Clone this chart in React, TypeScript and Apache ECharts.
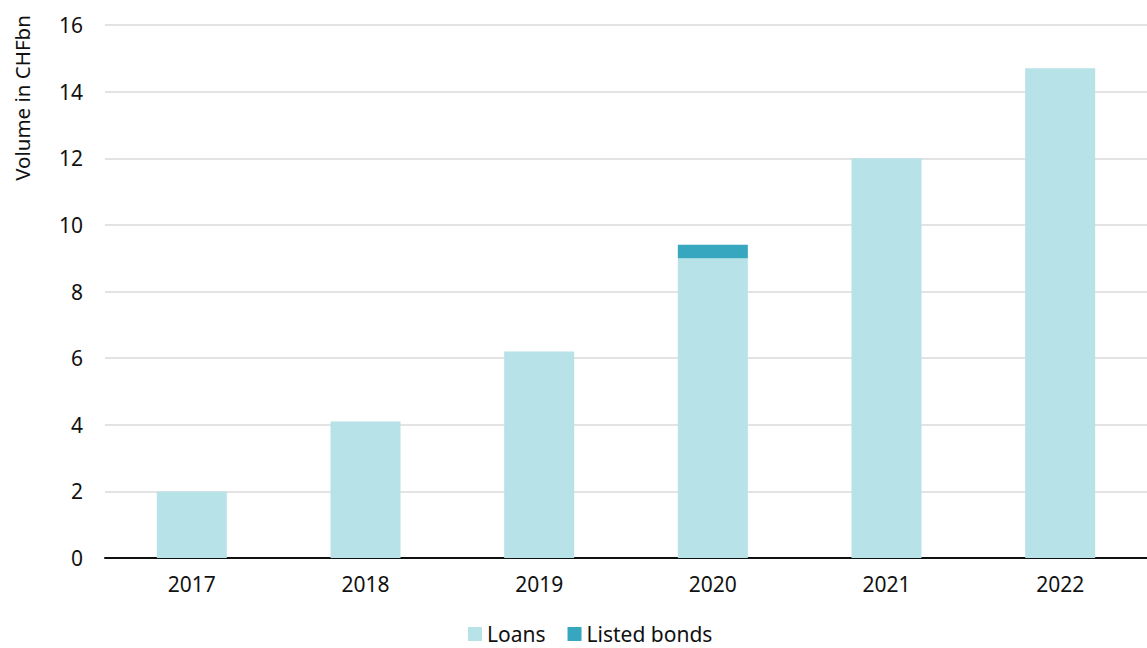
import React, { useEffect, useRef } from "react";
import * as echarts from "echarts";

const categories = ["2017", "2018", "2019", "2020", "2021", "2022"];
const loans = [2.0, 4.1, 6.2, 9.0, 12.0, 14.7];
const listedBonds = [0, 0, 0, 0.4, 0, 0];
const yTicks = [0, 2, 4, 6, 8, 10, 12, 14, 16];

const FONT = "Noto Sans";

export default function App() {
  const ref = useRef<HTMLDivElement>(null);
  useEffect(() => {
    document.body.style.margin = "0";
    const chart = echarts.init(ref.current!, null, { renderer: "svg" });
    chart.setOption({
      animation: false,
      textStyle: { fontFamily: FONT },
      grid: { left: 105, right: 0, top: 25, bottom: 90, containLabel: false },
      legend: {
        top: 623,
        left: 468,
        padding: 0,
        itemWidth: 14,
        itemHeight: 14,
        itemGap: 22,
        icon: "rect",
        textStyle: { fontSize: 21, color: "#111", fontFamily: FONT, lineHeight: 22 },
        data: ["Loans", "Listed bonds"],
      },
      xAxis: {
        type: "category",
        data: categories,
        axisLine: { lineStyle: { color: "#111", width: 2 } },
        axisTick: { show: false },
        axisLabel: { fontSize: 21, color: "#111", margin: 15, fontFamily: FONT },
      },
      yAxis: {
        type: "value",
        min: yTicks[0],
        max: yTicks[yTicks.length - 1],
        interval: 2,
        axisLine: { show: false },
        axisTick: { show: false },
        axisLabel: { fontSize: 21, color: "#111", margin: 22, fontFamily: FONT },
        splitLine: { lineStyle: { color: "#e3e3e3", width: 2 } },
      },
      graphic: [
        {
          type: "text",
          x: 22,
          y: 98,
          rotation: Math.PI / 2,
          style: {
            text: "Volume in CHFbn",
            fontSize: 20.5,
            fontFamily: FONT,
            fill: "#111",
            textAlign: "center",
            textVerticalAlign: "middle",
          },
        },
      ],
      series: [
        {
          name: "Loans",
          type: "bar",
          stack: "total",
          data: loans,
          barWidth: 70,
          itemStyle: { color: "#b7e2e8" },
        },
        {
          name: "Listed bonds",
          type: "bar",
          stack: "total",
          data: listedBonds,
          barWidth: 70,
          itemStyle: { color: "#37a6bf" },
        },
      ],
    });
    return () => chart.dispose();
  }, []);
  return <div ref={ref} style={{ width: 1147, height: 648 }} />;
}
